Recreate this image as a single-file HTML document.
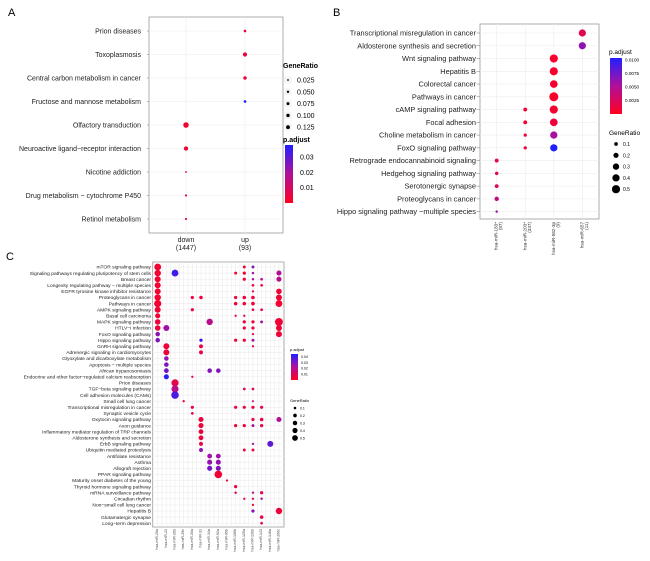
<!DOCTYPE html>
<html><head><meta charset="utf-8">
<style>
html,body{margin:0;padding:0;background:#fff;}
svg{display:block;font-family:"Liberation Sans",Arial,sans-serif;}
</style></head>
<body>
<svg id="fig" width="650" height="561" viewBox="0 0 650 561" xmlns="http://www.w3.org/2000/svg">
<defs>
<linearGradient id="gradA" x1="0" y1="1" x2="0" y2="0"><stop offset="0" stop-color="#ff0022"/><stop offset="0.5" stop-color="#b0109a"/><stop offset="1" stop-color="#2020ff"/></linearGradient>
</defs>
<text x="8" y="16" font-size="11">A</text>
<text x="333" y="16" font-size="11">B</text>
<text x="6" y="260" font-size="11">C</text>
</svg>
<script>
// ---------- Panel A data ----------
const aCategories = ["Prion diseases","Toxoplasmosis","Central carbon metabolism in cancer","Fructose and mannose metabolism","Olfactory transduction","Neuroactive ligand\u2212receptor interaction","Nicotine addiction","Drug metabolism \u2212 cytochrome P450","Retinol metabolism"];
const aGroups = ["down","up"];
const aGroupCounts = ["(1447)","(93)"];
const aRow = [0,1,2,3,4,5,6,7,8];
const aCol = [1,1,1,1,0,0,0,0,0];
const aRatio = [0.03,0.075,0.05,0.03,0.13,0.08,0.015,0.02,0.02];
const aPadj = [0.004,0.005,0.004,0.04,0.002,0.003,0.005,0.006,0.006];
const aSizeTicks = [0.025,0.05,0.075,0.1,0.125];
const aColorTicks = [0.03,0.02,0.01];

// ---------- Panel B data ----------
const bCategories = ["Transcriptional misregulation in cancer","Aldosterone synthesis and secretion","Wnt signaling pathway","Hepatitis B","Colorectal cancer","Pathways in cancer","cAMP signaling pathway","Focal adhesion","Choline metabolism in cancer","FoxO signaling pathway","Retrograde endocannabinoid signaling","Hedgehog signaling pathway","Serotonergic synapse","Proteoglycans in cancer","Hippo signaling pathway \u2212multiple species"];
const bGroups = ["hsa-miR-183*","hsa-miR-203*","hsa-miR-582-3p","hsa-miR-657"];
const bGroupCounts = ["(87)","(337)","(9)","(11)"];
const bRow = [0,1,2,3,4,5,6,6,7,7,8,8,9,9,10,11,12,13,14];
const bCol = [3,3,2,2,2,2,1,2,1,2,1,2,1,2,0,0,0,0,0];
const bRatio = [0.35,0.35,0.45,0.45,0.4,0.55,0.1,0.45,0.1,0.4,0.07,0.36,0.07,0.36,0.1,0.08,0.1,0.13,0.04];
const bPadj = [0.002,0.0065,0.0005,0.0005,0.0006,0.0004,0.0007,0.0006,0.0008,0.0012,0.0012,0.0055,0.0013,0.0105,0.0015,0.002,0.0025,0.004,0.006];
const bSizeTicks = [0.1,0.2,0.3,0.4,0.5];
const bColorTicks = [0.01,0.0075,0.005,0.0025];

// ---------- Panel C data ----------
const cCategories = ["mTOR signaling pathway","Signaling pathways regulating pluripotency of stem cells","Breast cancer","Longevity regulating pathway \u2212 multiple species","EGFR tyrosine kinase inhibitor resistance","Proteoglycans in cancer","Pathways in cancer","AMPK signaling pathway","Basal cell carcinoma","MAPK signaling pathway","HTLV\u2212I infection","FoxO signaling pathway","Hippo signaling pathway","GnRH signaling pathway","Adrenergic signaling in cardiomyocytes","Glyoxylate and dicarboxylate metabolism","Apoptosis \u2212 multiple species","African trypanosomiasis","Endocrine and other factor\u2212regulated calcium reabsorption","Prion diseases","TGF\u2212beta signaling pathway","Cell adhesion molecules (CAMs)","Small cell lung cancer","Transcriptional misregulation in cancer","Synaptic vesicle cycle","Oxytocin signaling pathway","Axon guidance","Inflammatory mediator regulation of TRP channels","Aldosterone synthesis and secretion","ErbB signaling pathway","Ubiquitin mediated proteolysis","Antifolate resistance","Asthma","Allograft rejection","PPAR signaling pathway","Maturity onset diabetes of the young","Thyroid hormone signaling pathway","mRNA surveillance pathway","Circadian rhythm","Non\u2212small cell lung cancer","Hepatitis B","Glutamatergic synapse","Long\u2212term depression"];
const cGroups = ["hsa-miR-20a","hsa-miR-21","hsa-miR-26b","hsa-miR-29c","hsa-miR-30a","hsa-miR-31","hsa-miR-34a","hsa-miR-92a","hsa-miR-99b","hsa-miR-106b","hsa-miR-125a","hsa-miR-130b","hsa-miR-143","hsa-miR-146a","hsa-miR-200c"];
// [row, col, geneRatio, p.adjust]
const cDots = [
[0,0,0.45,0.003],[0,10,0.08,0.004],[0,11,0.08,0.03],
[1,0,0.4,0.003],[1,2,0.45,0.04],[1,9,0.08,0.004],[1,10,0.1,0.004],[1,11,0.06,0.025],[1,14,0.25,0.022],
[2,0,0.35,0.003],[2,10,0.1,0.005],[2,11,0.06,0.022],[2,12,0.07,0.02],[2,14,0.25,0.02],
[3,0,0.35,0.003],[3,11,0.07,0.006],[3,12,0.07,0.005],
[4,0,0.35,0.003],[4,11,0.05,0.008],[4,14,0.3,0.004],
[5,0,0.4,0.003],[5,4,0.1,0.005],[5,5,0.12,0.005],[5,9,0.1,0.004],[5,10,0.12,0.004],[5,11,0.12,0.005],[5,14,0.35,0.004],
[6,0,0.5,0.003],[6,9,0.12,0.004],[6,10,0.12,0.004],[6,11,0.13,0.004],[6,14,0.45,0.003],
[7,0,0.35,0.004],[7,4,0.1,0.005],[7,11,0.07,0.006],[7,12,0.07,0.005],
[8,0,0.25,0.004],[8,9,0.05,0.006],[8,10,0.05,0.006],
[9,0,0.3,0.005],[9,6,0.4,0.02],[9,10,0.1,0.004],[9,11,0.1,0.005],[9,12,0.08,0.025],[9,14,0.6,0.004],
[10,0,0.3,0.005],[10,1,0.35,0.025],[10,10,0.1,0.005],[10,11,0.1,0.006],[10,14,0.35,0.004],
[11,0,0.2,0.028],[11,11,0.05,0.007],[11,14,0.35,0.004],
[12,0,0.2,0.03],[12,5,0.1,0.042],[12,9,0.1,0.005],[12,10,0.1,0.005],[12,11,0.08,0.025],
[13,1,0.35,0.004],[13,5,0.15,0.005],[13,11,0.05,0.007],
[14,1,0.35,0.005],[14,5,0.15,0.006],
[15,1,0.2,0.027],[16,1,0.2,0.03],
[17,1,0.22,0.032],[17,6,0.2,0.03],[17,7,0.2,0.03],
[18,1,0.25,0.043],[18,4,0.05,0.007],
[19,2,0.5,0.008],[20,2,0.5,0.02],[20,10,0.07,0.006],[20,11,0.07,0.007],
[21,2,0.55,0.038],
[22,3,0.05,0.005],[22,11,0.04,0.02],
[23,4,0.1,0.005],[23,9,0.1,0.005],[23,10,0.1,0.005],[23,11,0.1,0.006],[23,12,0.1,0.006],
[24,4,0.07,0.006],
[25,5,0.25,0.005],[25,11,0.1,0.006],[25,12,0.12,0.006],[25,14,0.25,0.022],
[26,5,0.25,0.004],[26,9,0.1,0.005],[26,10,0.1,0.005],[26,11,0.08,0.025],[26,12,0.1,0.006],
[27,5,0.22,0.005],[28,5,0.22,0.005],
[29,5,0.15,0.006],[29,11,0.05,0.025],[29,13,0.35,0.035],
[30,5,0.15,0.028],[30,10,0.08,0.006],[30,11,0.08,0.006],
[31,6,0.22,0.025],[31,7,0.22,0.025],
[32,6,0.25,0.027],[32,7,0.25,0.027],
[33,6,0.25,0.032],[33,7,0.25,0.03],
[34,7,0.55,0.004],
[35,8,0.05,0.006],
[36,9,0.1,0.006],
[37,9,0.06,0.01],[37,11,0.05,0.02],[37,12,0.1,0.007],
[38,10,0.05,0.007],[38,11,0.05,0.007],[38,12,0.06,0.022],
[39,11,0.05,0.008],
[40,11,0.1,0.03],[40,14,0.4,0.005],
[41,12,0.12,0.006],
[42,12,0.07,0.007]
];
const cSizeTicks = [0.1,0.2,0.3,0.4,0.5];
const cColorTicks = [0.04,0.03,0.02,0.01];

const NS = "http://www.w3.org/2000/svg";
const svg = document.getElementById('fig');
function el(tag, attrs, parent){ const e=document.createElementNS(NS,tag); for(const k in attrs) e.setAttribute(k,attrs[k]); (parent||svg).appendChild(e); return e; }
function colorScale(t){
  t=Math.max(0,Math.min(1,t));
  let r,g,b;
  if(t<0.5){ const u=t/0.5; r=255+(176-255)*u; g=0+(16)*u; b=34+(154-34)*u; }
  else { const u=(t-0.5)/0.5; r=176+(32-176)*u; g=16+(32-16)*u; b=154+(255-154)*u; }
  return `rgb(${r|0},${g|0},${b|0})`;
}
function panelFrame(x0,y0,x1,y1,nameP){
  const r=el('rect',{x:x0,y:y0,width:x1-x0,height:y1-y0,fill:'#fff',stroke:'#9a9a9a','stroke-width':0.8});
  
  
}
function grid(x0,y0,x1,y1,xs,ys){
  xs.forEach(x=>el('line',{x1:x,x2:x,y1:y0,y2:y1,stroke:'#ececec','stroke-width':0.6}));
  ys.forEach(y=>el('line',{x1:x0,x2:x1,y1:y,y2:y,stroke:'#ececec','stroke-width':0.6}));
}

// ===== Panel A =====
(function(){
  const x0=149,x1=283,y0=17,y1=233;
  const yA=i=>31+i*23.5, xA=j=>186+j*59;
  const rA=v=>Math.sqrt(v/0.125)*2.7;
  const pA=p=>colorScale(p/0.04);
  panelFrame(x0,y0,x1,y1,'panel-a');
  grid(x0,y0,x1,y1,aGroups.map((_,j)=>xA(j)),aCategories.map((_,i)=>yA(i)));
  aCategories.forEach((c,i)=>{
    const t=el('text',{x:141,y:yA(i)+2.3,'font-size':7,'text-anchor':'end',fill:'#222'}); t.textContent=c;
     
    el('line',{x1:147,x2:149,y1:yA(i),y2:yA(i),stroke:'#777','stroke-width':0.5});
  });
  aGroups.forEach((g,j)=>{
    const t=el('text',{x:xA(j),y:242,'font-size':7,'text-anchor':'middle',fill:'#222'}); t.textContent=g;
     
    const t2=el('text',{x:xA(j),y:250,'font-size':7,'text-anchor':'middle',fill:'#222'}); t2.textContent=aGroupCounts[j];
     
  });
  aRow.forEach((r,k)=>{
    const c=el('circle',{cx:xA(aCol[k]),cy:yA(r),r:rA(aRatio[k]),fill:pA(aPadj[k])});
     
  });
  const tt=el('text',{x:283,y:68,'font-size':7,'font-weight':'bold'}); tt.textContent='GeneRatio';
   
  aSizeTicks.forEach((v,i)=>{
    const y=80+i*11.8;
    el('rect',{x:284.5,y:y-3.5,width:7,height:7,fill:'#f4f4f4'});
    el('circle',{cx:288,cy:y,r:rA(v)*0.7,fill:'#000'});
    const t=el('text',{x:297,y:y+2.5,'font-size':7}); t.textContent=v.toFixed(3);
     
  });
  const pt=el('text',{x:283,y:142,'font-size':7,'font-weight':'bold'}); pt.textContent='p.adjust';
   
  const bar=el('rect',{x:285,y:145,width:8,height:58,fill:'url(#gradA)'});
   
  aColorTicks.forEach(v=>{
    const y=203-(v/0.038)*58;
    const t=el('text',{x:300,y:y+2.5,'font-size':7}); t.textContent=v.toFixed(2);
     
  });
})();

// ===== Panel B =====
(function(){
  const x0=480,x1=599,y0=24,y1=219;
  const yB=i=>33+i*12.76, xB=j=>496.7+j*28.55;
  const rB=v=>Math.sqrt(v/0.5)*4.3;
  const pB=p=>colorScale(p/0.0105);
  panelFrame(x0,y0,x1,y1,'panel-b');
  grid(x0,y0,x1,y1,bGroups.map((_,j)=>xB(j)),bCategories.map((_,i)=>yB(i)));
  bCategories.forEach((c,i)=>{
    const t=el('text',{x:476,y:yB(i)+2.6,'font-size':7.4,'text-anchor':'end',fill:'#222'}); t.textContent=c;
     
    el('line',{x1:476.5,x2:480,y1:yB(i),y2:yB(i),stroke:'#777','stroke-width':0.5});
  });
  bGroups.forEach((g,j)=>{
    const x=xB(j);
    const t=el('text',{x:0,y:0,'font-size':4.6,'text-anchor':'end',transform:`translate(${x+1},222) rotate(-90)`,fill:'#333'}); t.textContent=g;
     
    const t2=el('text',{x:0,y:0,'font-size':4.6,'text-anchor':'end',transform:`translate(${x+5.5},222) rotate(-90)`,fill:'#333'}); t2.textContent=bGroupCounts[j];
     
  });
  bRow.forEach((r,k)=>{
    const c=el('circle',{cx:xB(bCol[k]),cy:yB(r),r:rB(bRatio[k]),fill:pB(bPadj[k])});
     
  });
  const pt=el('text',{x:609,y:54,'font-size':6.5}); pt.textContent='p.adjust';
   
  const bar=el('rect',{x:610,y:58,width:12,height:56,fill:'url(#gradA)'});
   
  bColorTicks.forEach(v=>{
    const y=114-(v/0.0103)*56;
    const t=el('text',{x:625,y:y+1.8,'font-size':4.6}); t.textContent=v.toFixed(4);
     
  });
  const tt=el('text',{x:609,y:135,'font-size':6.5}); tt.textContent='GeneRatio';
   
  bSizeTicks.forEach((v,i)=>{
    const y=144+i*11.3;
    el('circle',{cx:616,cy:y,r:rB(v)*0.95,fill:'#000'});
    const t=el('text',{x:623,y:y+2,'font-size':5}); t.textContent=String(v);
     
  });
})();

// ===== Panel C =====
(function(){
  const x0=152.7,x1=284,y0=262,y1=527;
  const yC=i=>267+i*6.1, xC=j=>157.7+j*8.66;
  const rC=v=>Math.sqrt(v/0.5)*3.6;
  const pC=p=>colorScale(p/0.045);
  panelFrame(x0,y0,x1,y1,'panel-c');
  const xs=[]; cGroups.forEach((_,j)=>{xs.push(xC(j)); xs.push(xC(j)+4.33);});
  grid(x0,y0,x1,y1,xs,cCategories.map((_,i)=>yC(i)));
  cCategories.forEach((c,i)=>{
    const t=el('text',{x:151,y:yC(i)+1.7,'font-size':4.9,'text-anchor':'end',fill:'#222'}); t.textContent=c;
     
  });
  cGroups.forEach((g,j)=>{
    const x=xC(j);
    const t=el('text',{x:0,y:0,'font-size':3.6,'text-anchor':'end',transform:`translate(${x+0.5},529) rotate(-90)`,fill:'#444'}); t.textContent=g;
     
  });
  cDots.forEach(d=>{
    const c=el('circle',{cx:xC(d[1]),cy:yC(d[0]),r:rC(d[2]),fill:pC(d[3])});
     
  });
  const pt=el('text',{x:290,y:351,'font-size':4}); pt.textContent='p.adjust';
   
  const bar=el('rect',{x:291,y:354,width:7,height:26,fill:'url(#gradA)'});
   
  cColorTicks.forEach(v=>{
    const y=380-(v/0.045)*26;
    const t=el('text',{x:301,y:y+1.3,'font-size':3.5}); t.textContent=v.toFixed(2);
     
  });
  const tt=el('text',{x:290,y:402,'font-size':4}); tt.textContent='GeneRatio';
   
  cSizeTicks.forEach((v,i)=>{
    const y=408+i*7.5;
    el('circle',{cx:295,cy:y,r:rC(v)*0.8,fill:'#000'});
    const t=el('text',{x:300,y:y+1.3,'font-size':3.5}); t.textContent=String(v);
     
  });
})();
</script>
</body></html>
